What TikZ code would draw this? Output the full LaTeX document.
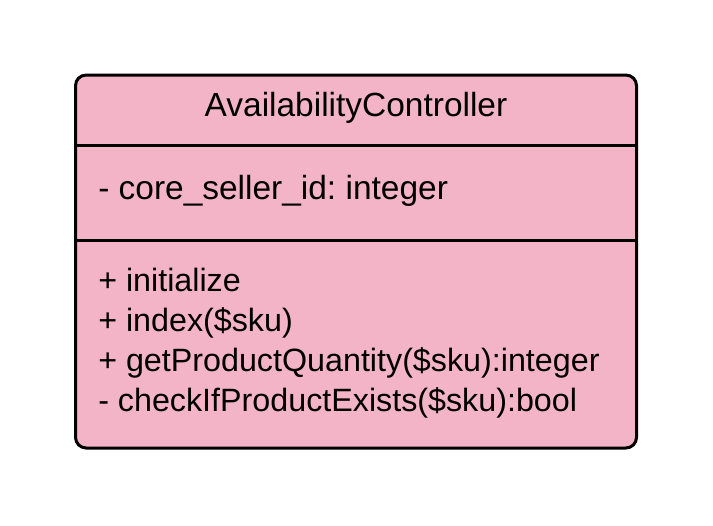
\documentclass[tikz,border=0pt]{standalone}
\usepackage{fontspec}
\setmainfont{Liberation Sans}
\definecolor{umlpink}{HTML}{F4B4C8}
\begin{document}
\frenchspacing
\begin{tikzpicture}[x=0.75pt,y=-0.75pt,
  boxline/.style={line width=2.25pt,draw=black},
  umltext/.style={inner sep=0pt,font=\fontsize{25.1}{30}\selectfont,text=black},
  membertext/.style={inner sep=0pt,font=\fontsize{24.2}{30}\selectfont,text=black,anchor=base west}]
\useasboundingbox (0,0) rectangle (713,525);
\fill[white] (0,0) rectangle (713,525);
\coordinate (tl) at (75.5,75);
\coordinate (br) at (636.5,448);
\coordinate (d1l) at (75.5,145.5);
\coordinate (d1r) at (636.5,145.5);
\coordinate (d2l) at (75.5,240.5);
\coordinate (d2r) at (636.5,240.5);
\draw[boxline,fill=umlpink,rounded corners=8pt] (tl) rectangle (br);
\draw[boxline] (d1l) -- (d1r);
\draw[boxline] (d2l) -- (d2r);
\node[umltext,anchor=base] (title) at (356,116) {AvailabilityController};
\node[umltext,anchor=base west] (attr) at (98,199) {- core\_seller\_id: integer};
\node[membertext] (m1) at (98,291.5) {+ initialize};
\node[membertext] (m2) at (98,331.5) {+ index(\$sku)};
\node[membertext] (m3) at (98,371.5) {+ getProductQuantity(\$sku):integer};
\node[membertext] (m4) at (98,411) {- checkIfProductExists(\$sku):bool};
\end{tikzpicture}
\end{document}
